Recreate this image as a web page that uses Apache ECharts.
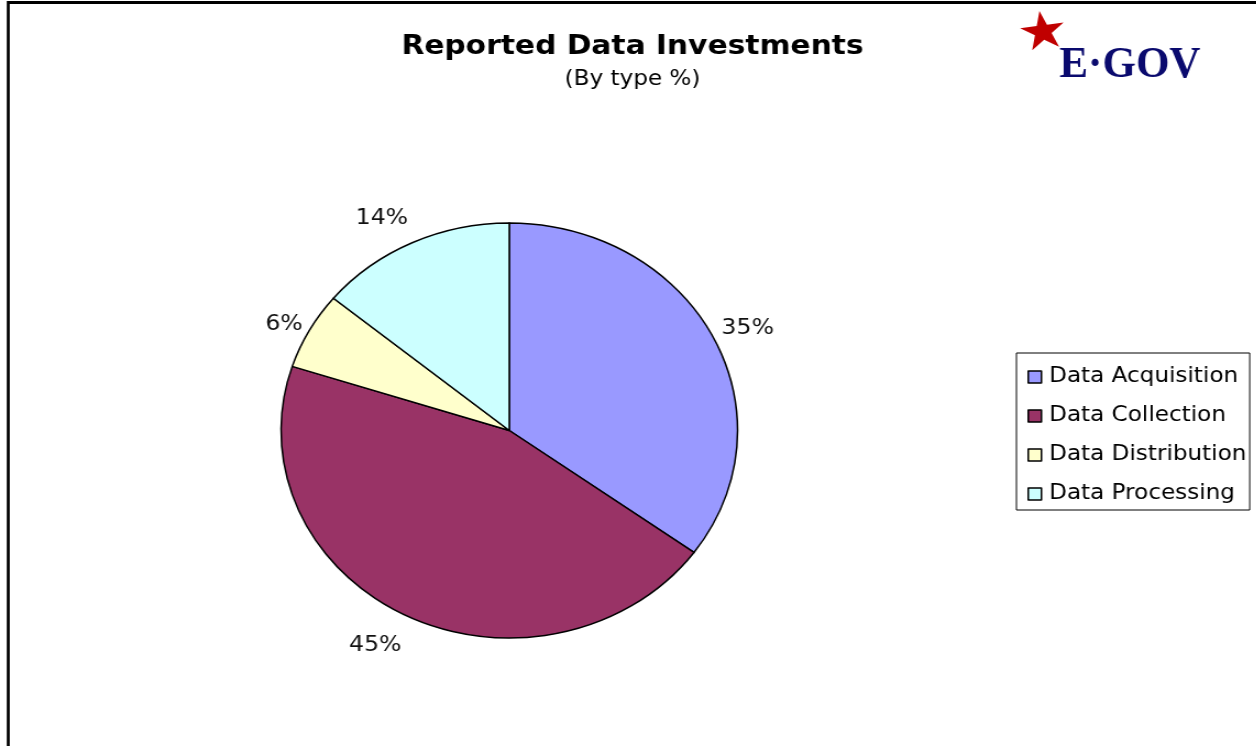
<!DOCTYPE html>
<html>
<head>
<meta charset="utf-8">
<script src="https://cdn.jsdelivr.net/npm/echarts@6/dist/echarts.min.js"></script>
<style>
html,body{margin:0;padding:0;background:#fff;}
#wrap{width:1256px;height:746px;overflow:hidden;position:relative;background:#fff;}
#chart{width:1142px;height:746px;transform:scaleX(1.1);transform-origin:0 0;}
</style>
</head>
<body>
<div id="wrap"><div id="chart"></div></div>
<script>
const categories = ['Data Acquisition', 'Data Collection', 'Data Distribution', 'Data Processing'];
const values = [35, 45, 6, 14];
const colors = ['#9999FF', '#993366', '#FFFFCC', '#CCFFFF'];
const titleText = 'Reported Data Investments';
const subtitleText = '(By type %)';

const FONT = '"DejaVu Sans", Verdana, sans-serif';
const chart = echarts.init(document.getElementById('chart'), null, {renderer: 'canvas'});
const cx = 463, cy = 430.5, R = 207.5;

chart.setOption({
  animation: false,
  backgroundColor: '#fff',
  color: colors,
  title: {
    text: titleText,
    subtext: subtitleText,
    left: 570,
    textAlign: 'center',
    top: 27,
    itemGap: 6,
    textStyle: {fontFamily: FONT, fontWeight: 'bold', fontSize: 27, color: '#000', lineHeight: 30},
    subtextStyle: {fontFamily: FONT, fontSize: 21, color: '#000', lineHeight: 24}
  },
  legend: {
    orient: 'vertical',
    left: 924,
    top: 353,
    icon: 'rect',
    itemWidth: 12,
    itemHeight: 12,
    itemGap: 17,
    borderColor: '#000',
    borderWidth: 1,
    padding: [13, 3, 5, 10],
    data: categories,
    itemStyle: {borderColor: '#000', borderWidth: 1.5},
    textStyle: {fontFamily: FONT, fontSize: 21, color: '#000', lineHeight: 22, padding: [0, 0, 0, 2]}
  },
  graphic: [
    {type: 'line', shape: {x1: 7.3, y1: 2.5, x2: 1142, y2: 2.5}, style: {stroke: '#000', lineWidth: 3}, silent: true},
    {type: 'line', shape: {x1: 7.5, y1: 1, x2: 7.5, y2: 746}, style: {stroke: '#000', lineWidth: 2.7}, silent: true},
    {type: 'text', x: 948.5, y: 35, rotation: 0.15, style: {text: '\u2605', fontSize: 52, fontFamily: FONT, fill: '#c00000', align: 'center', verticalAlign: 'middle', shadowBlur: 4, shadowColor: 'rgba(0,0,0,0.35)', shadowOffsetX: -2, shadowOffsetY: 2}, silent: true},
    {type: 'text', x: 963, y: 66, scaleX: 0.89, style: {text: 'E\u00B7GOV', font: 'bold 44px "Liberation Serif", "DejaVu Serif", serif', fill: '#0a0a6e', align: 'left', verticalAlign: 'middle'}, silent: true}
  ],
  series: [{
    type: 'pie',
    center: [cx, cy],
    radius: R,
    startAngle: 90,
    clockwise: true,
    avoidLabelOverlap: false,
    data: categories.map((c, i) => ({name: c, value: values[i]})),
    itemStyle: {borderColor: '#000', borderWidth: 1.5},
    label: {
      show: true,
      position: 'outside',
      formatter: p => p.value + '%',
      fontFamily: FONT,
      fontSize: 21.5,
      color: '#111'
    },
    labelLine: {show: false, length: 5, length2: 0},
    labelLayout: function (p) {
      const rel = p.labelRect.y + p.labelRect.height / 2 - cy;
      const relx = p.labelRect.x + p.labelRect.width / 2 - cx;
      return {dy: 0.13 * rel * Math.abs(rel) / R + (relx < 0 ? 3 : 0), dx: relx < 0 ? 3.5 : -1.5};
    },
    emphasis: {disabled: true}
  }]
});
</script>
</body>
</html>
